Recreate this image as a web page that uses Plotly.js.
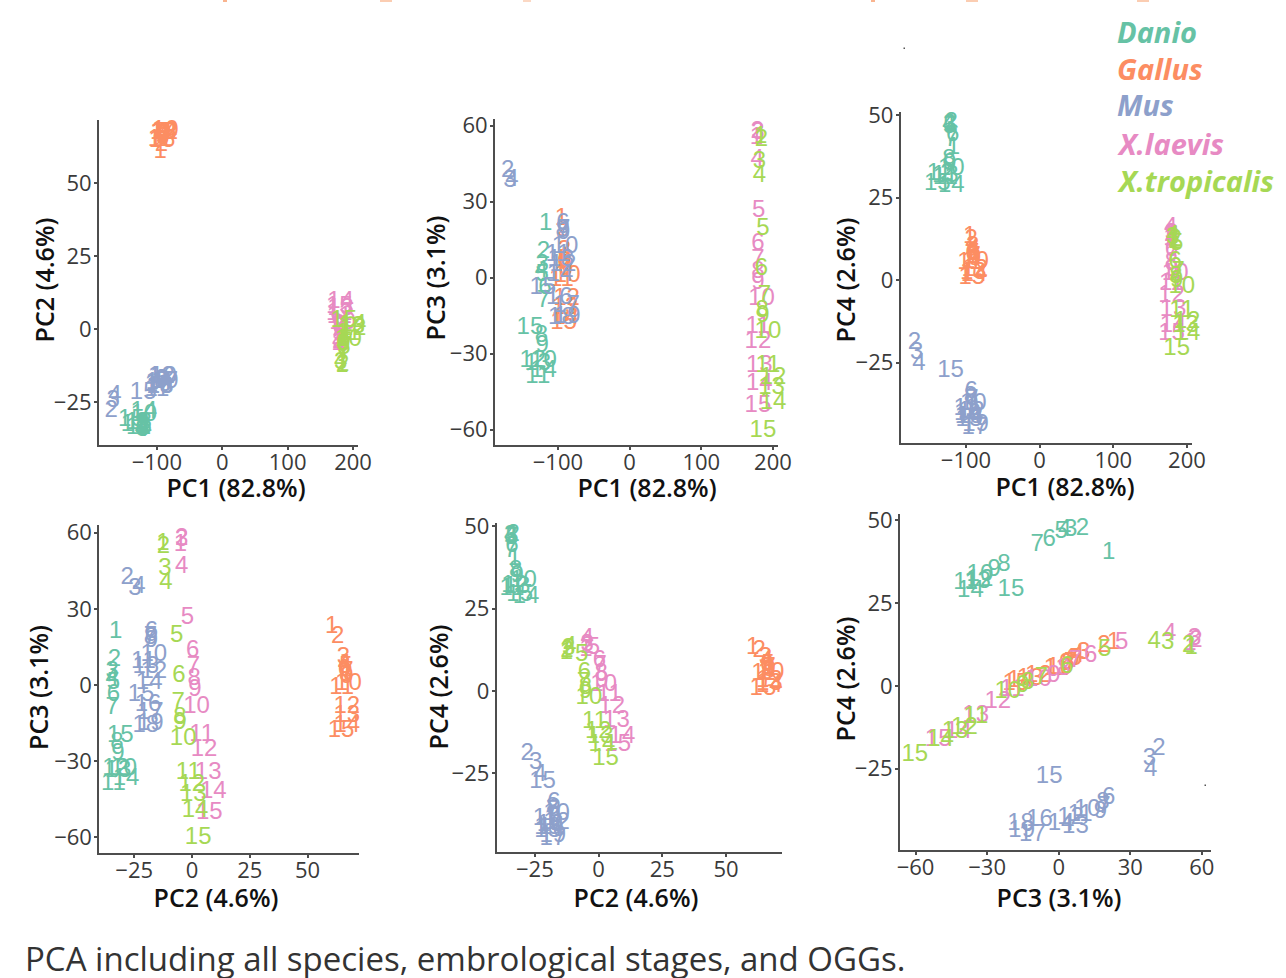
<!DOCTYPE html>
<html>
<head>
<meta charset="utf-8">
<script src="https://cdn.plot.ly/plotly-3.0.1.min.js"></script>
<style>html,body{margin:0;padding:0;background:#fff}#chart{width:1286px;height:978px}</style>
</head>
<body>
<div id="chart"></div>
<script>
// Stage labels
var stages15 = ['1','2','3','4','5','6','7','8','9','10','11','12','13','14','15'];
var musStages = ['2','3','4','15','6','7','8','9','10','11','12','13','14','16','17','18','19'];

// Danio
var danioPC1 = [-117,-120,-122,-123,-122,-118,-120,-123,-122,-120,-128,-135,-128,-120,-139];
var danioPC2 = [-33,-33.5,-34.5,-34.5,-34,-34,-34.5,-32.5,-32,-29.5,-34,-33,-32,-28.5,-31];
var danioPC3 = [21,10,5,2.5,1,-4,-9,-23,-27,-33,-39,-33,-34,-37,-20];
var danioPC4 = [40,47.5,47,47,46.5,44,42.5,36.5,35,33.5,31,32,31.5,28.5,29];
// Gallus
var gallusPC1 = [-95,-93,-91,-90,-90,-92,-89,-90,-88,-87,-95,-88,-90,-89,-92];
var gallusPC2 = [60.5,63,65.5,66,66.5,66,67,66.5,67,67.7,64.8,67,67,67,64.5];
var gallusPC3 = [23,19,10.5,8,7,6,5,4,3,0.5,-1,-8.5,-12,-16,-18];
var gallusPC4 = [13,12,10,9,8,8,7,7,6.5,5.5,5,3,2,1.5,0.5];
// Mus
var musPC1 = [-170,-167,-164,-121,-93,-92,-94,-92,-90,-100,-93,-96,-97,-98,-88,-95,-87];
var musPC2 = [-28,-24.7,-23,-22,-17.5,-18,-18,-17.5,-16.5,-21,-16.5,-20,-18.5,-19,-18,-20,-18];
var musPC3 = [42,38,38.5,-4,21,19,18.5,17.5,12,9,5,7,1,-8,-11,-16,-15.5];
var musPC4 = [-19,-22,-25.5,-27.5,-34,-36.5,-35.5,-38,-37.5,-39,-40,-42.5,-41.6,-40.6,-45,-41.6,-44];
// X.laevis
var laevisPC1 = [177,178,179,178,180,179,179,179,179,184,179,179,181,181,179];
var laevisPC2 = [-5,-4.5,-4.5,-4.5,-2,0.3,0.6,1,1.3,2,4.2,5.2,7,9.2,7.5];
var laevisPC3 = [55,57.5,57,46.5,26.4,13.4,7,2.2,-2,-8.5,-19.5,-25.5,-34.8,-42,-50.5];
var laevisPC4 = [12.5,13.5,14,15.8,13,9,7.5,5,3,1.8,-1.2,-4.8,-9,-14,-16.4];
// X.tropicalis
var tropPC1 = [183,184,181,181,186,184,188,185,186,193,193,200,198,200,186];
var tropPC2 = [-12.6,-12.4,-11.7,-11.3,-6.6,-5.6,-6,-5.2,-5.2,-3.8,-1.6,-0.1,0.6,1.3,2.7];
var tropPC3 = [55.5,54.5,45.7,40,19.3,3.5,-7.2,-13,-15,-21.3,-34.7,-39.5,-43.4,-49.5,-60.3];
var tropPC4 = [11.5,12,12.8,13.3,10.8,5.6,2.5,0.8,-0.2,-2,-9.4,-12.6,-14,-16.5,-20.8];

var speciesNames = ['Danio','Gallus','Mus','X.laevis','X.tropicalis'];
var speciesColors = ['#66c2a5','#fc8d62','#8da0cb','#e78ac3','#a6d854'];
var speciesStages = [stages15, stages15, musStages, stages15, stages15];
var pcData = {
  PC1:[danioPC1,gallusPC1,musPC1,laevisPC1,tropPC1],
  PC2:[danioPC2,gallusPC2,musPC2,laevisPC2,tropPC2],
  PC3:[danioPC3,gallusPC3,musPC3,laevisPC3,tropPC3],
  PC4:[danioPC4,gallusPC4,musPC4,laevisPC4,tropPC4]
};
var pcLabels = {PC1:'PC1 (82.8%)',PC2:'PC2 (4.6%)',PC3:'PC3 (3.1%)',PC4:'PC4 (2.6%)'};

var ticksPC1 = [-100,0,100,200];
var ticksPC2x = [-25,0,25,50];
var ticksPC3 = [-60,-30,0,30,60];
var ticks50 = [-25,0,25,50];

// xPC, yPC, pixel box [left,right,top,bottom], x range, y range, x ticks, y ticks, x title centre, y title centre
var panels = [
 {xp:'PC1',yp:'PC2',box:[99,358,120,445],   xr:[-188.5,207.6],yr:[-39.7,71.6],xt:ticksPC1,yt:ticks50,  xc:[236,492],yc:[44,280]},
 {xp:'PC1',yp:'PC3',box:[495,778,119,445],  xr:[-187.7,207],  yr:[-66,62.6],  xt:ticksPC1,yt:ticksPC3, xc:[647,492],yc:[435,278]},
 {xp:'PC1',yp:'PC4',box:[900.7,1191.7,111.7,442.7],xr:[-188.6,206.4],yr:[-49.3,51],xt:ticksPC1,yt:ticks50,xc:[1065,491],yc:[845,280]},
 {xp:'PC2',yp:'PC3',box:[99.3,359.3,525,852.7],xr:[-40.1,72.4],yr:[-66,63],  xt:ticksPC2x,yt:ticksPC3,xc:[216,902],yc:[38,687.5]},
 {xp:'PC2',yp:'PC4',box:[496.7,782.3,523,852],xr:[-40,72.1],  yr:[-48.9,51],  xt:ticksPC2x,yt:ticks50, xc:[636,902],yc:[438,687]},
 {xp:'PC3',yp:'PC4',box:[900,1210.7,514,850],xr:[-66.5,63.7], yr:[-49.6,51.9],xt:ticksPC3,yt:ticks50,  xc:[1059,902],yc:[845,679]}
];

var W = 1286, H = 978;
var tickFont = {family:'"Open Sans", sans-serif', size:22, color:'#3a3a3a'};
var titleFont = {family:'"Open Sans", sans-serif', size:25, color:'#111111', weight:600};
var markFont = 'Liberation Sans, Arial, sans-serif';

var traces = [];
var layout = {
  width:W, height:H, paper_bgcolor:'#fff', plot_bgcolor:'#fff',
  margin:{l:0,r:0,t:0,b:0}, showlegend:false, annotations:[], shapes:[]
};

panels.forEach(function(p,i){
  var n = i+1, xa = n===1?'xaxis':'xaxis'+n, ya = n===1?'yaxis':'yaxis'+n;
  speciesNames.forEach(function(name,s){
    traces.push({
      type:'scatter', mode:'text', name:name,
      x:pcData[p.xp][s], y:pcData[p.yp][s], text:speciesStages[s],
      textposition:'middle center', cliponaxis:false,
      textfont:{family:markFont,size:24,color:speciesColors[s]},
      xaxis:'x'+(n===1?'':n), yaxis:'y'+(n===1?'':n)
    });
  });
  var common = {showgrid:false,zeroline:false,showline:true,linecolor:'#4d4d4d',linewidth:2,
    ticks:'outside',ticklen:3,tickwidth:1.5,tickcolor:'#4d4d4d',tickfont:tickFont,tickmode:'array',automargin:false};
  layout[xa] = Object.assign({},common,{domain:[p.box[0]/W,p.box[1]/W],range:p.xr,tickvals:p.xt,ticklabelstandoff:-6,
    anchor:'y'+(n===1?'':n),title:{text:pcLabels[p.xp],font:titleFont,standoff:6}});
  layout[ya] = Object.assign({},common,{domain:[1-p.box[3]/H,1-p.box[2]/H],range:p.yr,tickvals:p.yt,ticklabelstandoff:-2,
    anchor:'x'+(n===1?'':n),title:{text:pcLabels[p.yp],font:titleFont,standoff:6}});
});

// Species key
var keyY = [31.5,68.5,104.5,143.5,180.5];
speciesNames.forEach(function(name,s){
  layout.annotations.push({xref:'paper',yref:'paper',x:1115/W,y:1-keyY[s]/H,xanchor:'left',yanchor:'middle',
    showarrow:false,text:name,font:{family:'"Open Sans", sans-serif',size:29,color:speciesColors[s],weight:700,style:'italic'}});
});
// Caption
layout.annotations.push({xref:'paper',yref:'paper',x:23/W,y:1-958/H,xanchor:'left',yanchor:'middle',showarrow:false,
  text:'PCA including all species, embrological stages, and OGGs.',
  font:{family:'"Open Sans", sans-serif',size:33,color:'#333333'}});

// Scan specks and the remains of a cropped-off heading at the top edge
var specks = [[903.5,47.5,905,49,'#555555'],[1204.5,784.5,1206,786,'#555555'],
  [223,0,227,2,'#f9b48f'],[380,0,392,2,'#fbcdb2'],[523,0,531,2,'#fbd8c4'],
  [871,0,875,2,'#f9b48f'],[966,0,978,2,'#fbcdb2'],[1137,0,1149,2,'#fbcdb2']];
specks.forEach(function(r){
  layout.shapes.push({type:'rect',xref:'paper',yref:'paper',x0:r[0]/W,x1:r[2]/W,y0:1-r[3]/H,y1:1-r[1]/H,
    fillcolor:r[4],line:{width:0}});
});

Plotly.newPlot('chart',traces,layout,{displayModeBar:false,responsive:false}).then(function(gd){
  // Move each axis title onto the position it has in the reference
  panels.forEach(function(p,i){
    var n = i===0?'':String(i+1);
    [['x',p.xc],['y',p.yc]].forEach(function(a){
      var g = gd.querySelector('.g-'+a[0]+n+'title'), t = g && g.querySelector('text');
      if(!t) return;
      var r = t.getBoundingClientRect();
      var dx = a[1][0]-(r.left+r.right)/2, dy = a[1][1]-(r.top+r.bottom)/2;
      g.setAttribute('transform','translate('+dx+','+dy+')');
    });
  });
});
</script>
</body>
</html>
